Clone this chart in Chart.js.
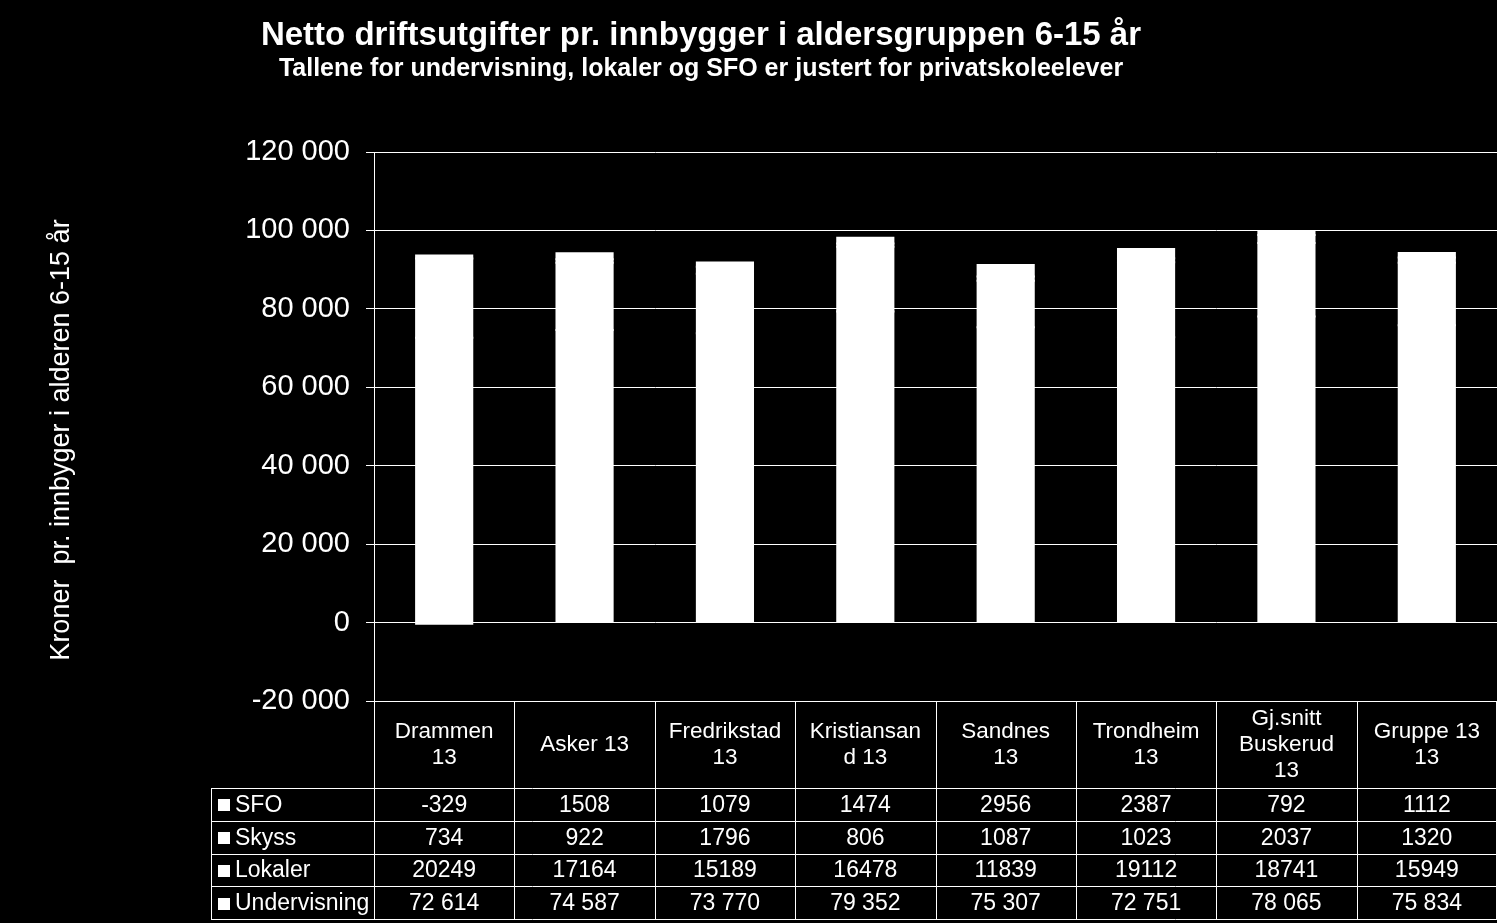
<!DOCTYPE html>
<html>
<head>
<meta charset="utf-8">
<script src="https://cdn.jsdelivr.net/npm/chart.js@4"></script>
<style>
html, body { margin: 0; padding: 0; background: #000; }
#wrap { width: 1497px; height: 923px; }
</style>
</head>
<body>
<div id="wrap"><canvas id="myChart"></canvas></div>
<script>
var categories = ['Drammen 13', 'Asker 13', 'Fredrikstad 13', 'Kristiansand 13', 'Sandnes 13', 'Trondheim 13', 'Gj.snitt Buskerud 13', 'Gruppe 13 13'];
var headerLines = [['Drammen', '13'], ['Asker 13'], ['Fredrikstad', '13'], ['Kristiansan', 'd 13'], ['Sandnes', '13'], ['Trondheim', '13'], ['Gj.snitt', 'Buskerud', '13'], ['Gruppe 13', '13']];
var sfo = [-329, 1508, 1079, 1474, 2956, 2387, 792, 1112];
var skyss = [734, 922, 1796, 806, 1087, 1023, 2037, 1320];
var lokaler = [20249, 17164, 15189, 16478, 11839, 19112, 18741, 15949];
var undervisning = [72614, 74587, 73770, 79352, 75307, 72751, 78065, 75834];
var spacedRows = ['Undervisning'];

var title = 'Netto driftsutgifter pr. innbygger i aldersgruppen 6-15 år';
var subtitle = 'Tallene for undervisning, lokaler og SFO er justert for privatskoleelever';
var yTitle = 'Kroner  pr. innbyger i alderen 6-15 år';

var FONT = "'Liberation Sans', Arial, sans-serif";

function spaced(n) {
    var s = String(Math.abs(n)).replace(/\B(?=(\d{3})+(?!\d))/g, ' ');
    return (n < 0 ? '-' : '') + s;
}

// table under the plot, titles and the rotated axis title
var tablePlugin = {
    id: 'dataTable',
    afterDraw: function(chart) {
        var ctx = chart.ctx;
        var area = chart.chartArea;
        var xs = chart.scales.x;
        var n = categories.length;
        var colW = (area.right - area.left) / n;
        var top = area.bottom;
        var headBottom = 788;
        var rowH = 32.8;
        var tableLeft = 211;
        var rows = chart.data.datasets.slice().reverse();
        var bottom = headBottom + rowH * rows.length;
        var px = function(v) { return Math.round(v) + 0.5; };

        ctx.save();
        ctx.strokeStyle = '#fff';
        ctx.fillStyle = '#fff';
        ctx.lineWidth = 1;

        ctx.beginPath();
        for (var r = 0; r <= rows.length; r++) {
            var yy = px(headBottom + r * rowH);
            ctx.moveTo(tableLeft, yy);
            ctx.lineTo(area.right, yy);
        }
        ctx.moveTo(px(tableLeft), px(headBottom));
        ctx.lineTo(px(tableLeft), px(bottom));
        for (var c = 0; c <= n; c++) {
            var xx = px(Math.min(area.left + c * colW, area.right - 1));
            ctx.moveTo(xx, top);
            ctx.lineTo(xx, px(bottom));
        }
        ctx.stroke();

        ctx.font = '22.5px ' + FONT;
        ctx.textAlign = 'center';
        ctx.textBaseline = 'middle';
        var lh = 26;
        for (var i = 0; i < n; i++) {
            var cx = xs.getPixelForValue(i);
            var lines = headerLines[i];
            var y0 = (top + headBottom) / 2 - (lines.length - 1) * lh / 2;
            for (var k = 0; k < lines.length; k++) {
                ctx.fillText(lines[k], cx, y0 + k * lh);
            }
        }

        ctx.font = '23px ' + FONT;
        rows.forEach(function(ds, r) {
            var cy = headBottom + r * rowH + rowH / 2 + 1;
            ctx.textAlign = 'left';
            ctx.fillRect(218, Math.round(cy - 6), 12, 12);
            ctx.fillText(ds.label, 235, cy);
            ctx.textAlign = 'center';
            var useSpace = spacedRows.indexOf(ds.label) >= 0;
            ds.data.forEach(function(v, i) {
                ctx.fillText(useSpace ? spaced(v) : String(v), xs.getPixelForValue(i), cy);
            });
        });

        ctx.font = 'bold 33px ' + FONT;
        ctx.fillText(title, 701, 36);
        ctx.font = 'bold 25px ' + FONT;
        ctx.fillText(subtitle, 701, 69);

        ctx.translate(62, 440);
        ctx.rotate(-Math.PI / 2);
        ctx.font = '27px ' + FONT;
        ctx.fillText(yTitle, 0, 0);
        ctx.restore();
    }
};

function barSet(label, data) {
    return {
        label: label,
        data: data,
        backgroundColor: '#ffffff',
        borderWidth: 0,
        inflateAmount: 1,
        categoryPercentage: 1,
        barPercentage: 0.4
    };
}

var ctx = document.getElementById('myChart').getContext('2d');
var myChart = new Chart(ctx, {
    type: 'bar',
    data: {
        labels: categories,
        datasets: [
            barSet('Undervisning', undervisning),
            barSet('Lokaler', lokaler),
            barSet('Skyss', skyss),
            barSet('SFO', sfo)
        ]
    },
    options: {
        responsive: true,
        maintainAspectRatio: false,
        animation: false,
        layout: {
            padding: { top: 152, bottom: 222, left: 0, right: 0 }
        },
        plugins: {
            legend: { display: false },
            tooltip: { enabled: false }
        },
        scales: {
            x: {
                stacked: true,
                display: false
            },
            y: {
                stacked: true,
                min: -20000,
                max: 120000,
                afterFit: function(scale) { scale.width = 374; },
                ticks: {
                    stepSize: 20000,
                    color: '#fff',
                    padding: 16,
                    font: { family: FONT, size: 29 },
                    callback: function(v) { return spaced(v); }
                },
                grid: {
                    color: '#fff',
                    lineWidth: 1,
                    tickLength: 8
                },
                border: { color: '#fff', width: 1 }
            }
        }
    },
    plugins: [tablePlugin]
});
</script>
</body>
</html>
